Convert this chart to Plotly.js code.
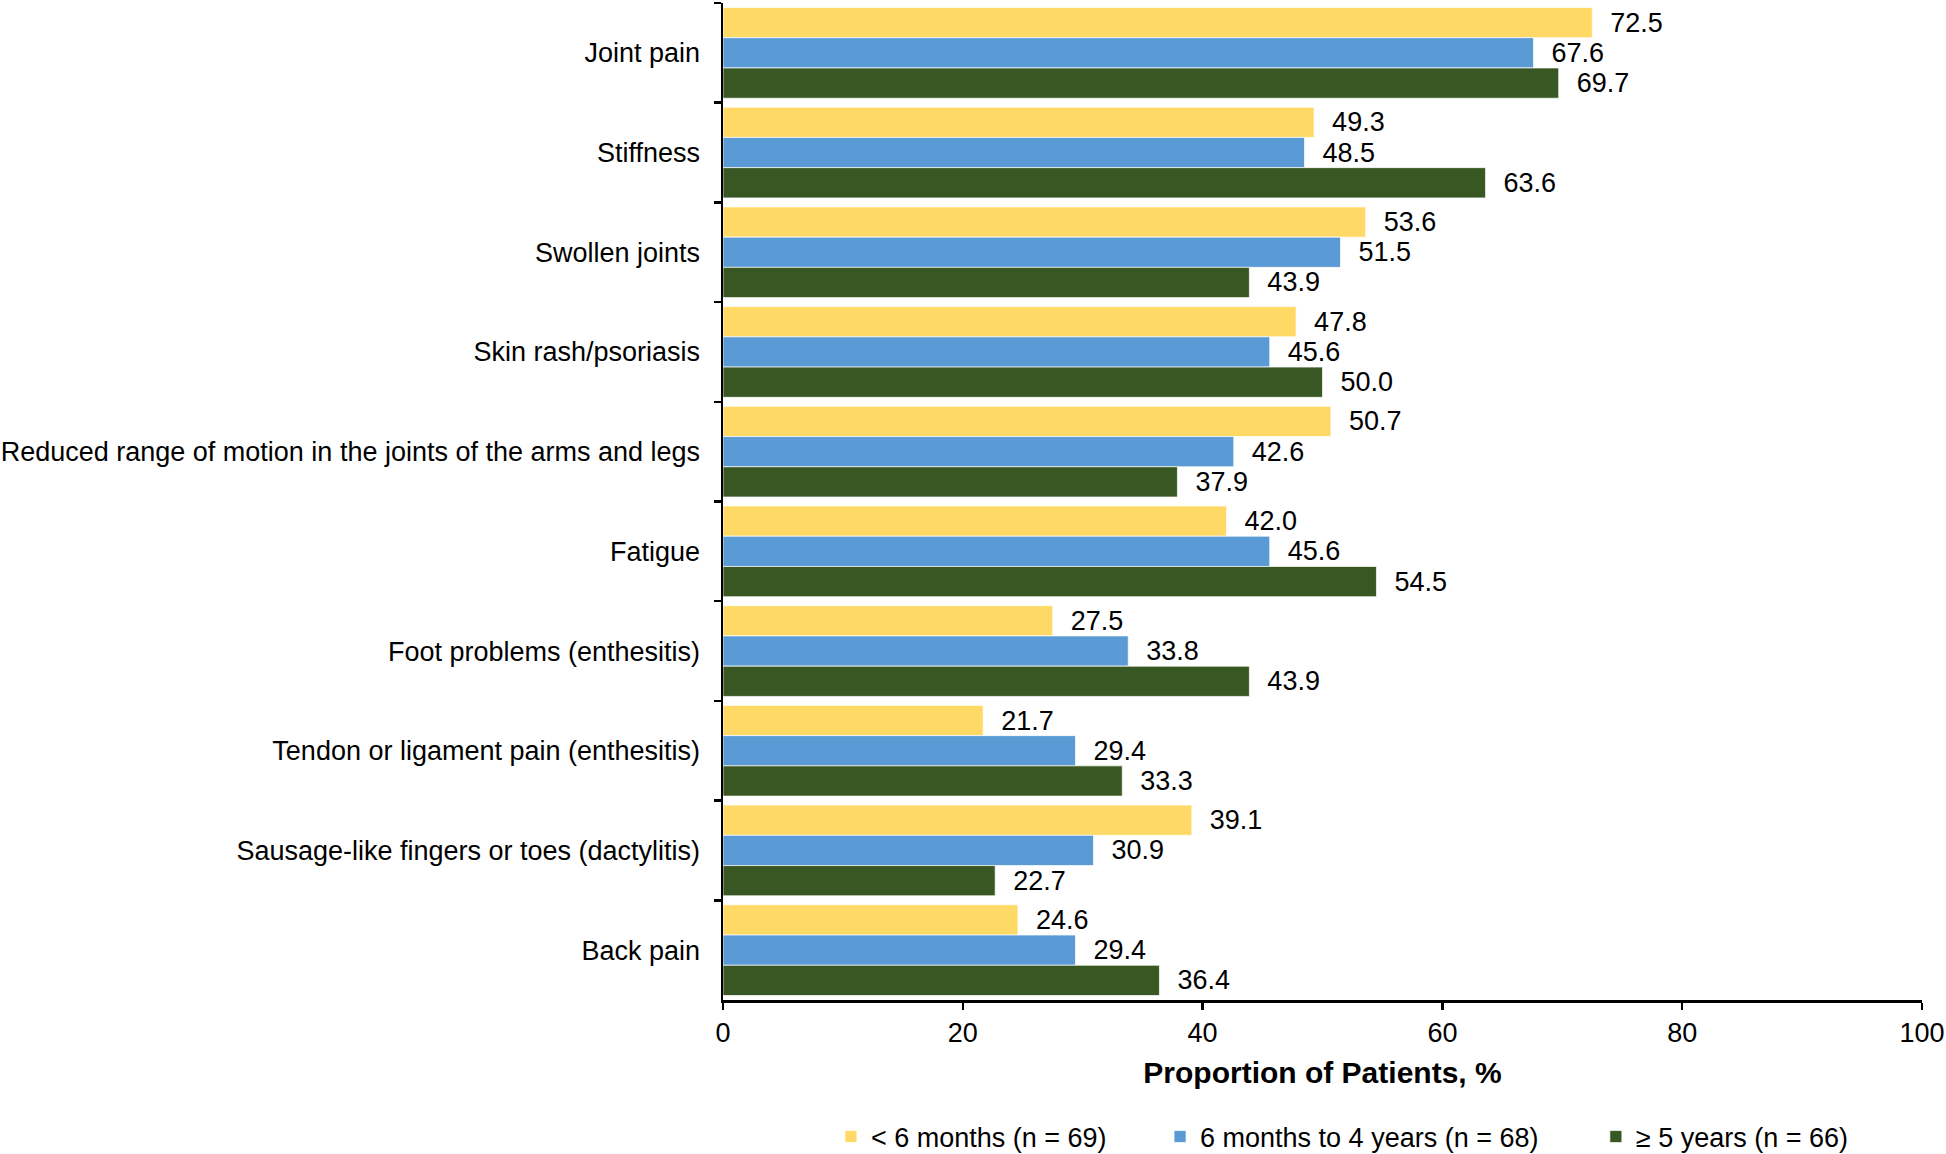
<!DOCTYPE html>
<html>
<head>
<meta charset="utf-8">
<script src="https://cdn.plot.ly/plotly-3.0.1.min.js"></script>
<style>html,body{margin:0;padding:0;background:#fff;}#chart{width:1946px;height:1154px;}</style>
</head>
<body>
<div id="chart"></div>
<script>
const categories = [
  "Joint pain",
  "Stiffness",
  "Swollen joints",
  "Skin rash/psoriasis",
  "Reduced range of motion in the joints of the arms and legs",
  "Fatigue",
  "Foot problems (enthesitis)",
  "Tendon or ligament pain (enthesitis)",
  "Sausage-like fingers or toes (dactylitis)",
  "Back pain"
];
const seriesNames = ["< 6 months (n = 69)", "6 months to 4 years (n = 68)", "\u2265 5 years (n = 66)"];
const lessThan6Months = [72.5, 49.3, 53.6, 47.8, 50.7, 42.0, 27.5, 21.7, 39.1, 24.6];
const sixMonthsTo4Years = [67.6, 48.5, 51.5, 45.6, 42.6, 45.6, 33.8, 29.4, 30.9, 29.4];
const fiveYearsPlus = [69.7, 63.6, 43.9, 50.0, 37.9, 54.5, 43.9, 33.3, 22.7, 36.4];
const xTicks = [0, 20, 40, 60, 80, 100];

const colors = ["#FFD966", "#5B9BD5", "#385723"];
const values = [lessThan6Months, sixMonthsTo4Years, fiveYearsPlus];
const legendIds = ["legend", "legend2", "legend3"];
const FONT = "Liberation Sans, Arial, sans-serif";

const traces = values.map((v, i) => ({
  type: "bar",
  orientation: "h",
  name: seriesNames[i],
  y: categories,
  x: v,
  marker: {color: colors[i], line: {color: "rgba(255,255,255,0.7)", width: 1}},
  text: v.map(d => d.toFixed(1)),
  texttemplate: "\u00a0\u00a0%{text}",
  textposition: "outside",
  constraintext: "none",
  cliponaxis: false,
  textfont: {family: FONT, size: 27, color: "#000"},
  legend: legendIds[i],
  hoverinfo: "skip"
}));

function legendAt(x) {
  return {
    orientation: "h",
    x: x, xanchor: "left",
    y: -0.1374, yanchor: "middle",
    font: {family: FONT, size: 27, color: "#000"},
    bgcolor: "rgba(0,0,0,0)",
    borderwidth: 0,
    itemwidth: 30
  };
}

const layout = {
  width: 1946,
  height: 1154,
  margin: {l: 723, r: 24, t: 3, b: 154, autoexpand: false},
  paper_bgcolor: "#fff",
  plot_bgcolor: "#fff",
  font: {family: FONT, size: 27, color: "#000"},
  barmode: "group",
  bargap: 0.09,
  bargroupgap: 0,
  showlegend: true,
  legend: legendAt(0.090),
  legend2: legendAt(0.3645),
  legend3: legendAt(0.728),
  xaxis: {
    range: [0, 100],
    tickvals: xTicks,
    ticktext: xTicks.map(String),
    showgrid: false,
    zeroline: false,
    showline: true,
    linecolor: "#000",
    linewidth: 2.5,
    ticks: "outside",
    ticklen: 7,
    tickwidth: 2.5,
    tickcolor: "#000",
    ticklabelstandoff: 0,
    tickfont: {family: FONT, size: 27, color: "#000"},
    title: {text: "<b>Proportion of Patients, %</b>", font: {family: FONT, size: 30, color: "#000"}, standoff: 15},
    automargin: false,
    fixedrange: true
  },
  yaxis: {
    type: "category",
    autorange: "reversed",
    showgrid: false,
    zeroline: false,
    showline: true,
    linecolor: "#000",
    linewidth: 2.5,
    ticks: "outside",
    tickson: "boundaries",
    ticklen: 7,
    tickwidth: 2.5,
    tickcolor: "#000",
    ticklabelstandoff: 15,
    tickfont: {family: FONT, size: 27, color: "#000"},
    automargin: false,
    fixedrange: true
  }
};

Plotly.newPlot("chart", traces, layout, {displayModeBar: false, staticPlot: true});
</script>
</body>
</html>
